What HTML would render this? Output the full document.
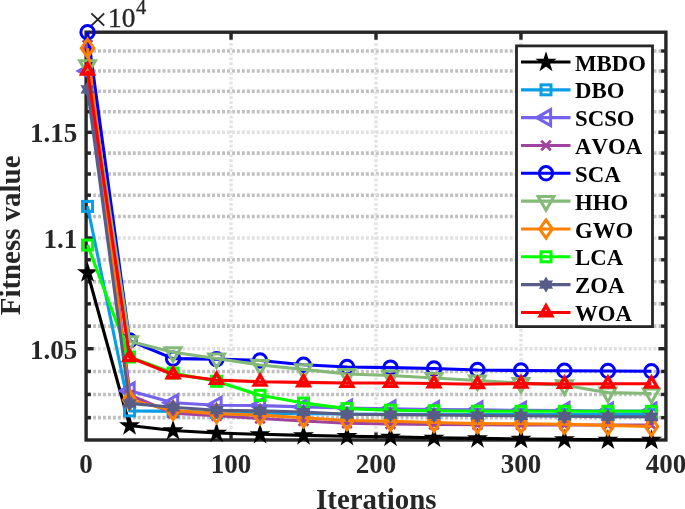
<!DOCTYPE html><html><head><meta charset="utf-8"><style>html,body{margin:0;padding:0;background:#fff;overflow:hidden;width:685px;height:509px;}svg{display:block;will-change:transform;}text{font-family:"Liberation Serif",serif;font-kerning:none;}</style></head><body>
<svg width="685" height="509" viewBox="0 0 685 509">
<rect x="0" y="0" width="685" height="509" fill="#fff"/>
<g><line x1="86.1" y1="417.65" x2="665.9" y2="417.65" stroke="#c0c0c0" stroke-width="3.6" stroke-dasharray="2.95 2.01" stroke-dashoffset="2.94"/><line x1="86.1" y1="394.44" x2="665.9" y2="394.44" stroke="#c0c0c0" stroke-width="3.6" stroke-dasharray="2.95 2.01" stroke-dashoffset="2.94"/><line x1="86.1" y1="371.46" x2="665.9" y2="371.46" stroke="#c0c0c0" stroke-width="3.6" stroke-dasharray="2.95 2.01" stroke-dashoffset="2.94"/><line x1="86.1" y1="348.70" x2="665.9" y2="348.70" stroke="#e0e0e0" stroke-width="3.6" stroke-dasharray="2.95 2.01" stroke-dashoffset="2.94"/><line x1="86.1" y1="326.15" x2="665.9" y2="326.15" stroke="#c0c0c0" stroke-width="3.6" stroke-dasharray="2.95 2.01" stroke-dashoffset="2.94"/><line x1="86.1" y1="303.82" x2="665.9" y2="303.82" stroke="#c0c0c0" stroke-width="3.6" stroke-dasharray="2.95 2.01" stroke-dashoffset="2.94"/><line x1="86.1" y1="281.69" x2="665.9" y2="281.69" stroke="#c0c0c0" stroke-width="3.6" stroke-dasharray="2.95 2.01" stroke-dashoffset="2.94"/><line x1="86.1" y1="259.77" x2="665.9" y2="259.77" stroke="#c0c0c0" stroke-width="3.6" stroke-dasharray="2.95 2.01" stroke-dashoffset="2.94"/><line x1="86.1" y1="238.05" x2="665.9" y2="238.05" stroke="#e0e0e0" stroke-width="3.6" stroke-dasharray="2.95 2.01" stroke-dashoffset="2.94"/><line x1="86.1" y1="216.52" x2="665.9" y2="216.52" stroke="#c0c0c0" stroke-width="3.6" stroke-dasharray="2.95 2.01" stroke-dashoffset="2.94"/><line x1="86.1" y1="195.19" x2="665.9" y2="195.19" stroke="#c0c0c0" stroke-width="3.6" stroke-dasharray="2.95 2.01" stroke-dashoffset="2.94"/><line x1="86.1" y1="174.04" x2="665.9" y2="174.04" stroke="#c0c0c0" stroke-width="3.6" stroke-dasharray="2.95 2.01" stroke-dashoffset="2.94"/><line x1="86.1" y1="153.09" x2="665.9" y2="153.09" stroke="#c0c0c0" stroke-width="3.6" stroke-dasharray="2.95 2.01" stroke-dashoffset="2.94"/><line x1="86.1" y1="132.31" x2="665.9" y2="132.31" stroke="#e0e0e0" stroke-width="3.6" stroke-dasharray="2.95 2.01" stroke-dashoffset="2.94"/><line x1="86.1" y1="111.72" x2="665.9" y2="111.72" stroke="#c0c0c0" stroke-width="3.6" stroke-dasharray="2.95 2.01" stroke-dashoffset="2.94"/><line x1="86.1" y1="91.30" x2="665.9" y2="91.30" stroke="#c0c0c0" stroke-width="3.6" stroke-dasharray="2.95 2.01" stroke-dashoffset="2.94"/><line x1="86.1" y1="71.06" x2="665.9" y2="71.06" stroke="#c0c0c0" stroke-width="3.6" stroke-dasharray="2.95 2.01" stroke-dashoffset="2.94"/><line x1="86.1" y1="50.98" x2="665.9" y2="50.98" stroke="#c0c0c0" stroke-width="3.6" stroke-dasharray="2.95 2.01" stroke-dashoffset="2.94"/><line x1="231.05" y1="32.2" x2="231.05" y2="440.0" stroke="#e2e2e2" stroke-width="3.4" stroke-dasharray="2.7 2.15" stroke-dashoffset="3.8"/><line x1="376.00" y1="32.2" x2="376.00" y2="440.0" stroke="#e2e2e2" stroke-width="3.4" stroke-dasharray="2.7 2.15" stroke-dashoffset="3.8"/><line x1="520.95" y1="32.2" x2="520.95" y2="440.0" stroke="#e2e2e2" stroke-width="3.4" stroke-dasharray="2.7 2.15" stroke-dashoffset="3.8"/></g>
<rect x="86.10" y="32.20" width="579.80" height="407.80" fill="none" stroke="#262626" stroke-width="3.4"/>
<g><line x1="231.05" y1="440.00" x2="231.05" y2="432.50" stroke="#262626" stroke-width="3.4"/><line x1="231.05" y1="32.20" x2="231.05" y2="39.70" stroke="#262626" stroke-width="3.4"/><line x1="376.00" y1="440.00" x2="376.00" y2="432.50" stroke="#262626" stroke-width="3.4"/><line x1="376.00" y1="32.20" x2="376.00" y2="39.70" stroke="#262626" stroke-width="3.4"/><line x1="520.95" y1="440.00" x2="520.95" y2="432.50" stroke="#262626" stroke-width="3.4"/><line x1="520.95" y1="32.20" x2="520.95" y2="39.70" stroke="#262626" stroke-width="3.4"/><line x1="86.10" y1="417.65" x2="90.90" y2="417.65" stroke="#262626" stroke-width="3.4"/><line x1="665.90" y1="417.65" x2="661.10" y2="417.65" stroke="#262626" stroke-width="3.4"/><line x1="86.10" y1="394.44" x2="90.90" y2="394.44" stroke="#262626" stroke-width="3.4"/><line x1="665.90" y1="394.44" x2="661.10" y2="394.44" stroke="#262626" stroke-width="3.4"/><line x1="86.10" y1="371.46" x2="90.90" y2="371.46" stroke="#262626" stroke-width="3.4"/><line x1="665.90" y1="371.46" x2="661.10" y2="371.46" stroke="#262626" stroke-width="3.4"/><line x1="86.10" y1="348.70" x2="93.60" y2="348.70" stroke="#262626" stroke-width="3.4"/><line x1="665.90" y1="348.70" x2="658.40" y2="348.70" stroke="#262626" stroke-width="3.4"/><line x1="86.10" y1="326.15" x2="90.90" y2="326.15" stroke="#262626" stroke-width="3.4"/><line x1="665.90" y1="326.15" x2="661.10" y2="326.15" stroke="#262626" stroke-width="3.4"/><line x1="86.10" y1="303.82" x2="90.90" y2="303.82" stroke="#262626" stroke-width="3.4"/><line x1="665.90" y1="303.82" x2="661.10" y2="303.82" stroke="#262626" stroke-width="3.4"/><line x1="86.10" y1="281.69" x2="90.90" y2="281.69" stroke="#262626" stroke-width="3.4"/><line x1="665.90" y1="281.69" x2="661.10" y2="281.69" stroke="#262626" stroke-width="3.4"/><line x1="86.10" y1="259.77" x2="90.90" y2="259.77" stroke="#262626" stroke-width="3.4"/><line x1="665.90" y1="259.77" x2="661.10" y2="259.77" stroke="#262626" stroke-width="3.4"/><line x1="86.10" y1="238.05" x2="93.60" y2="238.05" stroke="#262626" stroke-width="3.4"/><line x1="665.90" y1="238.05" x2="658.40" y2="238.05" stroke="#262626" stroke-width="3.4"/><line x1="86.10" y1="216.52" x2="90.90" y2="216.52" stroke="#262626" stroke-width="3.4"/><line x1="665.90" y1="216.52" x2="661.10" y2="216.52" stroke="#262626" stroke-width="3.4"/><line x1="86.10" y1="195.19" x2="90.90" y2="195.19" stroke="#262626" stroke-width="3.4"/><line x1="665.90" y1="195.19" x2="661.10" y2="195.19" stroke="#262626" stroke-width="3.4"/><line x1="86.10" y1="174.04" x2="90.90" y2="174.04" stroke="#262626" stroke-width="3.4"/><line x1="665.90" y1="174.04" x2="661.10" y2="174.04" stroke="#262626" stroke-width="3.4"/><line x1="86.10" y1="153.09" x2="90.90" y2="153.09" stroke="#262626" stroke-width="3.4"/><line x1="665.90" y1="153.09" x2="661.10" y2="153.09" stroke="#262626" stroke-width="3.4"/><line x1="86.10" y1="132.31" x2="93.60" y2="132.31" stroke="#262626" stroke-width="3.4"/><line x1="665.90" y1="132.31" x2="658.40" y2="132.31" stroke="#262626" stroke-width="3.4"/><line x1="86.10" y1="111.72" x2="90.90" y2="111.72" stroke="#262626" stroke-width="3.4"/><line x1="665.90" y1="111.72" x2="661.10" y2="111.72" stroke="#262626" stroke-width="3.4"/><line x1="86.10" y1="91.30" x2="90.90" y2="91.30" stroke="#262626" stroke-width="3.4"/><line x1="665.90" y1="91.30" x2="661.10" y2="91.30" stroke="#262626" stroke-width="3.4"/><line x1="86.10" y1="71.06" x2="90.90" y2="71.06" stroke="#262626" stroke-width="3.4"/><line x1="665.90" y1="71.06" x2="661.10" y2="71.06" stroke="#262626" stroke-width="3.4"/><line x1="86.10" y1="50.98" x2="90.90" y2="50.98" stroke="#262626" stroke-width="3.4"/><line x1="665.90" y1="50.98" x2="661.10" y2="50.98" stroke="#262626" stroke-width="3.4"/></g>
<polyline points="87.55,272.50 129.58,425.50 173.07,430.50 216.55,433.00 260.04,434.30 303.52,435.40 347.01,436.20 390.50,436.90 433.98,437.80 477.47,438.40 520.95,439.00 564.43,439.40 607.92,439.80 651.40,440.00" fill="none" stroke="#000000" stroke-width="3.1" stroke-linejoin="round"/>
<g><polygon points="87.55,264.30 89.46,270.17 95.63,270.17 90.64,273.80 92.55,279.68 87.55,276.05 82.55,279.68 84.46,273.80 79.47,270.17 85.64,270.17" fill="#000000" stroke="#000000" stroke-width="1.6" stroke-linejoin="miter"/><polygon points="129.58,417.30 131.49,423.17 137.67,423.17 132.67,426.80 134.58,432.68 129.58,429.05 124.59,432.68 126.50,426.80 121.50,423.17 127.68,423.17" fill="#000000" stroke="#000000" stroke-width="1.6" stroke-linejoin="miter"/><polygon points="173.07,422.30 174.98,428.17 181.15,428.17 176.16,431.80 178.07,437.68 173.07,434.05 168.07,437.68 169.98,431.80 164.99,428.17 171.16,428.17" fill="#000000" stroke="#000000" stroke-width="1.6" stroke-linejoin="miter"/><polygon points="216.55,424.80 218.46,430.67 224.64,430.67 219.64,434.30 221.55,440.18 216.55,436.55 211.56,440.18 213.47,434.30 208.47,430.67 214.65,430.67" fill="#000000" stroke="#000000" stroke-width="1.6" stroke-linejoin="miter"/><polygon points="260.04,426.10 261.95,431.97 268.12,431.97 263.13,435.60 265.04,441.48 260.04,437.85 255.04,441.48 256.95,435.60 251.96,431.97 258.13,431.97" fill="#000000" stroke="#000000" stroke-width="1.6" stroke-linejoin="miter"/><polygon points="303.52,427.20 305.43,433.07 311.61,433.07 306.61,436.70 308.52,442.58 303.52,438.95 298.53,442.58 300.44,436.70 295.44,433.07 301.62,433.07" fill="#000000" stroke="#000000" stroke-width="1.6" stroke-linejoin="miter"/><polygon points="347.01,428.00 348.92,433.87 355.09,433.87 350.10,437.50 352.01,443.38 347.01,439.75 342.01,443.38 343.92,437.50 338.93,433.87 345.10,433.87" fill="#000000" stroke="#000000" stroke-width="1.6" stroke-linejoin="miter"/><polygon points="390.50,428.70 392.40,434.57 398.58,434.57 393.58,438.20 395.49,444.08 390.50,440.45 385.50,444.08 387.41,438.20 382.41,434.57 388.59,434.57" fill="#000000" stroke="#000000" stroke-width="1.6" stroke-linejoin="miter"/><polygon points="433.98,429.60 435.89,435.47 442.06,435.47 437.07,439.10 438.98,444.98 433.98,441.35 428.98,444.98 430.89,439.10 425.90,435.47 432.07,435.47" fill="#000000" stroke="#000000" stroke-width="1.6" stroke-linejoin="miter"/><polygon points="477.47,430.20 479.37,436.07 485.55,436.07 480.55,439.70 482.46,445.58 477.47,441.95 472.47,445.58 474.38,439.70 469.38,436.07 475.56,436.07" fill="#000000" stroke="#000000" stroke-width="1.6" stroke-linejoin="miter"/><polygon points="520.95,430.80 522.86,436.67 529.03,436.67 524.04,440.30 525.95,446.18 520.95,442.55 515.95,446.18 517.86,440.30 512.87,436.67 519.04,436.67" fill="#000000" stroke="#000000" stroke-width="1.6" stroke-linejoin="miter"/><polygon points="564.43,431.20 566.34,437.07 572.52,437.07 567.52,440.70 569.43,446.58 564.43,442.95 559.44,446.58 561.35,440.70 556.35,437.07 562.53,437.07" fill="#000000" stroke="#000000" stroke-width="1.6" stroke-linejoin="miter"/><polygon points="607.92,431.60 609.83,437.47 616.00,437.47 611.01,441.10 612.92,446.98 607.92,443.35 602.92,446.98 604.83,441.10 599.84,437.47 606.01,437.47" fill="#000000" stroke="#000000" stroke-width="1.6" stroke-linejoin="miter"/><polygon points="651.40,431.80 653.31,437.67 659.49,437.67 654.49,441.30 656.40,447.18 651.40,443.55 646.41,447.18 648.32,441.30 643.32,437.67 649.50,437.67" fill="#000000" stroke="#000000" stroke-width="1.6" stroke-linejoin="miter"/></g>
<polyline points="87.55,206.40 129.58,410.90 173.07,411.40 216.55,412.50 260.04,413.20 303.52,413.60 347.01,414.00 390.50,414.20 433.98,414.40 477.47,414.50 520.95,414.60 564.43,414.60 607.92,414.60 651.40,414.60" fill="none" stroke="#0b9ee4" stroke-width="3.1" stroke-linejoin="round"/>
<g><rect x="82.55" y="201.40" width="10.00" height="10.00" fill="none" stroke="#0b9ee4" stroke-width="3.0"/><rect x="124.58" y="405.90" width="10.00" height="10.00" fill="none" stroke="#0b9ee4" stroke-width="3.0"/><rect x="168.07" y="406.40" width="10.00" height="10.00" fill="none" stroke="#0b9ee4" stroke-width="3.0"/><rect x="211.55" y="407.50" width="10.00" height="10.00" fill="none" stroke="#0b9ee4" stroke-width="3.0"/><rect x="255.04" y="408.20" width="10.00" height="10.00" fill="none" stroke="#0b9ee4" stroke-width="3.0"/><rect x="298.52" y="408.60" width="10.00" height="10.00" fill="none" stroke="#0b9ee4" stroke-width="3.0"/><rect x="342.01" y="409.00" width="10.00" height="10.00" fill="none" stroke="#0b9ee4" stroke-width="3.0"/><rect x="385.50" y="409.20" width="10.00" height="10.00" fill="none" stroke="#0b9ee4" stroke-width="3.0"/><rect x="428.98" y="409.40" width="10.00" height="10.00" fill="none" stroke="#0b9ee4" stroke-width="3.0"/><rect x="472.47" y="409.50" width="10.00" height="10.00" fill="none" stroke="#0b9ee4" stroke-width="3.0"/><rect x="515.95" y="409.60" width="10.00" height="10.00" fill="none" stroke="#0b9ee4" stroke-width="3.0"/><rect x="559.43" y="409.60" width="10.00" height="10.00" fill="none" stroke="#0b9ee4" stroke-width="3.0"/><rect x="602.92" y="409.60" width="10.00" height="10.00" fill="none" stroke="#0b9ee4" stroke-width="3.0"/><rect x="646.40" y="409.60" width="10.00" height="10.00" fill="none" stroke="#0b9ee4" stroke-width="3.0"/></g>
<polyline points="87.55,71.00 129.58,390.80 173.07,402.80 216.55,405.30 260.04,405.60 303.52,406.90 347.01,408.00 390.50,408.80 433.98,409.60 477.47,409.90 520.95,410.30 564.43,410.50 607.92,411.00 651.40,411.00" fill="none" stroke="#7462ec" stroke-width="3.1" stroke-linejoin="round"/>
<g><polygon points="78.35,71.00 92.15,63.03 92.15,78.97" fill="none" stroke="#7462ec" stroke-width="3.0" stroke-linejoin="miter"/><polygon points="120.38,390.80 134.18,382.83 134.18,398.77" fill="none" stroke="#7462ec" stroke-width="3.0" stroke-linejoin="miter"/><polygon points="163.87,402.80 177.67,394.83 177.67,410.77" fill="none" stroke="#7462ec" stroke-width="3.0" stroke-linejoin="miter"/><polygon points="207.35,405.30 221.15,397.33 221.15,413.27" fill="none" stroke="#7462ec" stroke-width="3.0" stroke-linejoin="miter"/><polygon points="250.84,405.60 264.64,397.63 264.64,413.57" fill="none" stroke="#7462ec" stroke-width="3.0" stroke-linejoin="miter"/><polygon points="294.32,406.90 308.12,398.93 308.12,414.87" fill="none" stroke="#7462ec" stroke-width="3.0" stroke-linejoin="miter"/><polygon points="337.81,408.00 351.61,400.03 351.61,415.97" fill="none" stroke="#7462ec" stroke-width="3.0" stroke-linejoin="miter"/><polygon points="381.30,408.80 395.10,400.83 395.10,416.77" fill="none" stroke="#7462ec" stroke-width="3.0" stroke-linejoin="miter"/><polygon points="424.78,409.60 438.58,401.63 438.58,417.57" fill="none" stroke="#7462ec" stroke-width="3.0" stroke-linejoin="miter"/><polygon points="468.27,409.90 482.07,401.93 482.07,417.87" fill="none" stroke="#7462ec" stroke-width="3.0" stroke-linejoin="miter"/><polygon points="511.75,410.30 525.55,402.33 525.55,418.27" fill="none" stroke="#7462ec" stroke-width="3.0" stroke-linejoin="miter"/><polygon points="555.23,410.50 569.03,402.53 569.03,418.47" fill="none" stroke="#7462ec" stroke-width="3.0" stroke-linejoin="miter"/><polygon points="598.72,411.00 612.52,403.03 612.52,418.97" fill="none" stroke="#7462ec" stroke-width="3.0" stroke-linejoin="miter"/><polygon points="642.20,411.00 656.00,403.03 656.00,418.97" fill="none" stroke="#7462ec" stroke-width="3.0" stroke-linejoin="miter"/></g>
<polyline points="87.55,45.00 129.58,395.00 173.07,413.20 216.55,415.80 260.04,418.50 303.52,421.00 347.01,423.20 390.50,424.00 433.98,424.50 477.47,424.80 520.95,425.00 564.43,425.00 607.92,425.00 651.40,425.00" fill="none" stroke="#9f42a0" stroke-width="3.1" stroke-linejoin="round"/>
<g><path d="M82.75 40.20L92.35 49.80M82.75 49.80L92.35 40.20" stroke="#9f42a0" stroke-width="2.7" fill="none"/><path d="M124.78 390.20L134.38 399.80M124.78 399.80L134.38 390.20" stroke="#9f42a0" stroke-width="2.7" fill="none"/><path d="M168.27 408.40L177.87 418.00M168.27 418.00L177.87 408.40" stroke="#9f42a0" stroke-width="2.7" fill="none"/><path d="M211.75 411.00L221.35 420.60M211.75 420.60L221.35 411.00" stroke="#9f42a0" stroke-width="2.7" fill="none"/><path d="M255.24 413.70L264.84 423.30M255.24 423.30L264.84 413.70" stroke="#9f42a0" stroke-width="2.7" fill="none"/><path d="M298.72 416.20L308.32 425.80M298.72 425.80L308.32 416.20" stroke="#9f42a0" stroke-width="2.7" fill="none"/><path d="M342.21 418.40L351.81 428.00M342.21 428.00L351.81 418.40" stroke="#9f42a0" stroke-width="2.7" fill="none"/><path d="M385.69 419.20L395.30 428.80M385.69 428.80L395.30 419.20" stroke="#9f42a0" stroke-width="2.7" fill="none"/><path d="M429.18 419.70L438.78 429.30M429.18 429.30L438.78 419.70" stroke="#9f42a0" stroke-width="2.7" fill="none"/><path d="M472.67 420.00L482.27 429.60M472.67 429.60L482.27 420.00" stroke="#9f42a0" stroke-width="2.7" fill="none"/><path d="M516.15 420.20L525.75 429.80M516.15 429.80L525.75 420.20" stroke="#9f42a0" stroke-width="2.7" fill="none"/><path d="M559.63 420.20L569.23 429.80M559.63 429.80L569.23 420.20" stroke="#9f42a0" stroke-width="2.7" fill="none"/><path d="M603.12 420.20L612.72 429.80M603.12 429.80L612.72 420.20" stroke="#9f42a0" stroke-width="2.7" fill="none"/><path d="M646.61 420.20L656.20 429.80M646.61 429.80L656.20 420.20" stroke="#9f42a0" stroke-width="2.7" fill="none"/></g>
<polyline points="87.55,32.20 129.58,340.50 173.07,358.60 216.55,359.10 260.04,360.50 303.52,364.70 347.01,367.00 390.50,367.60 433.98,368.50 477.47,370.00 520.95,370.50 564.43,370.70 607.92,371.00 651.40,371.20" fill="none" stroke="#0000ff" stroke-width="3.1" stroke-linejoin="round"/>
<g><circle cx="87.55" cy="32.20" r="6.7" fill="none" stroke="#0000ff" stroke-width="3.0"/><circle cx="129.58" cy="340.50" r="6.7" fill="none" stroke="#0000ff" stroke-width="3.0"/><circle cx="173.07" cy="358.60" r="6.7" fill="none" stroke="#0000ff" stroke-width="3.0"/><circle cx="216.55" cy="359.10" r="6.7" fill="none" stroke="#0000ff" stroke-width="3.0"/><circle cx="260.04" cy="360.50" r="6.7" fill="none" stroke="#0000ff" stroke-width="3.0"/><circle cx="303.52" cy="364.70" r="6.7" fill="none" stroke="#0000ff" stroke-width="3.0"/><circle cx="347.01" cy="367.00" r="6.7" fill="none" stroke="#0000ff" stroke-width="3.0"/><circle cx="390.50" cy="367.60" r="6.7" fill="none" stroke="#0000ff" stroke-width="3.0"/><circle cx="433.98" cy="368.50" r="6.7" fill="none" stroke="#0000ff" stroke-width="3.0"/><circle cx="477.47" cy="370.00" r="6.7" fill="none" stroke="#0000ff" stroke-width="3.0"/><circle cx="520.95" cy="370.50" r="6.7" fill="none" stroke="#0000ff" stroke-width="3.0"/><circle cx="564.43" cy="370.70" r="6.7" fill="none" stroke="#0000ff" stroke-width="3.0"/><circle cx="607.92" cy="371.00" r="6.7" fill="none" stroke="#0000ff" stroke-width="3.0"/><circle cx="651.40" cy="371.20" r="6.7" fill="none" stroke="#0000ff" stroke-width="3.0"/></g>
<polyline points="87.55,65.40 129.58,341.20 173.07,352.20 216.55,358.50 260.04,365.00 303.52,369.40 347.01,374.00 390.50,375.50 433.98,378.00 477.47,380.50 520.95,383.10 564.43,385.30 607.92,392.60 651.40,393.50" fill="none" stroke="#85b978" stroke-width="3.1" stroke-linejoin="round"/>
<g><polygon points="87.55,74.50 95.43,60.85 79.67,60.85" fill="none" stroke="#85b978" stroke-width="3.0" stroke-linejoin="miter"/><polygon points="129.58,350.30 137.47,336.65 121.70,336.65" fill="none" stroke="#85b978" stroke-width="3.0" stroke-linejoin="miter"/><polygon points="173.07,361.30 180.95,347.65 165.19,347.65" fill="none" stroke="#85b978" stroke-width="3.0" stroke-linejoin="miter"/><polygon points="216.55,367.60 224.44,353.95 208.67,353.95" fill="none" stroke="#85b978" stroke-width="3.0" stroke-linejoin="miter"/><polygon points="260.04,374.10 267.92,360.45 252.16,360.45" fill="none" stroke="#85b978" stroke-width="3.0" stroke-linejoin="miter"/><polygon points="303.52,378.50 311.41,364.85 295.64,364.85" fill="none" stroke="#85b978" stroke-width="3.0" stroke-linejoin="miter"/><polygon points="347.01,383.10 354.89,369.45 339.13,369.45" fill="none" stroke="#85b978" stroke-width="3.0" stroke-linejoin="miter"/><polygon points="390.50,384.60 398.38,370.95 382.61,370.95" fill="none" stroke="#85b978" stroke-width="3.0" stroke-linejoin="miter"/><polygon points="433.98,387.10 441.86,373.45 426.10,373.45" fill="none" stroke="#85b978" stroke-width="3.0" stroke-linejoin="miter"/><polygon points="477.47,389.60 485.35,375.95 469.58,375.95" fill="none" stroke="#85b978" stroke-width="3.0" stroke-linejoin="miter"/><polygon points="520.95,392.20 528.83,378.55 513.07,378.55" fill="none" stroke="#85b978" stroke-width="3.0" stroke-linejoin="miter"/><polygon points="564.43,394.40 572.32,380.75 556.55,380.75" fill="none" stroke="#85b978" stroke-width="3.0" stroke-linejoin="miter"/><polygon points="607.92,401.70 615.80,388.05 600.04,388.05" fill="none" stroke="#85b978" stroke-width="3.0" stroke-linejoin="miter"/><polygon points="651.40,402.60 659.29,388.95 643.52,388.95" fill="none" stroke="#85b978" stroke-width="3.0" stroke-linejoin="miter"/></g>
<polyline points="87.55,48.20 129.58,400.00 173.07,410.50 216.55,413.60 260.04,415.10 303.52,417.80 347.01,420.50 390.50,421.20 433.98,422.50 477.47,423.60 520.95,423.80 564.43,424.20 607.92,425.40 651.40,426.50" fill="none" stroke="#ff8000" stroke-width="3.1" stroke-linejoin="round"/>
<g><polygon points="87.55,39.10 93.85,48.20 87.55,57.30 81.25,48.20" fill="none" stroke="#ff8000" stroke-width="3.0" stroke-linejoin="miter"/><polygon points="129.58,390.90 135.88,400.00 129.58,409.10 123.28,400.00" fill="none" stroke="#ff8000" stroke-width="3.0" stroke-linejoin="miter"/><polygon points="173.07,401.40 179.37,410.50 173.07,419.60 166.77,410.50" fill="none" stroke="#ff8000" stroke-width="3.0" stroke-linejoin="miter"/><polygon points="216.55,404.50 222.85,413.60 216.55,422.70 210.25,413.60" fill="none" stroke="#ff8000" stroke-width="3.0" stroke-linejoin="miter"/><polygon points="260.04,406.00 266.34,415.10 260.04,424.20 253.74,415.10" fill="none" stroke="#ff8000" stroke-width="3.0" stroke-linejoin="miter"/><polygon points="303.52,408.70 309.82,417.80 303.52,426.90 297.22,417.80" fill="none" stroke="#ff8000" stroke-width="3.0" stroke-linejoin="miter"/><polygon points="347.01,411.40 353.31,420.50 347.01,429.60 340.71,420.50" fill="none" stroke="#ff8000" stroke-width="3.0" stroke-linejoin="miter"/><polygon points="390.50,412.10 396.80,421.20 390.50,430.30 384.19,421.20" fill="none" stroke="#ff8000" stroke-width="3.0" stroke-linejoin="miter"/><polygon points="433.98,413.40 440.28,422.50 433.98,431.60 427.68,422.50" fill="none" stroke="#ff8000" stroke-width="3.0" stroke-linejoin="miter"/><polygon points="477.47,414.50 483.77,423.60 477.47,432.70 471.17,423.60" fill="none" stroke="#ff8000" stroke-width="3.0" stroke-linejoin="miter"/><polygon points="520.95,414.70 527.25,423.80 520.95,432.90 514.65,423.80" fill="none" stroke="#ff8000" stroke-width="3.0" stroke-linejoin="miter"/><polygon points="564.43,415.10 570.73,424.20 564.43,433.30 558.13,424.20" fill="none" stroke="#ff8000" stroke-width="3.0" stroke-linejoin="miter"/><polygon points="607.92,416.30 614.22,425.40 607.92,434.50 601.62,425.40" fill="none" stroke="#ff8000" stroke-width="3.0" stroke-linejoin="miter"/><polygon points="651.40,417.40 657.70,426.50 651.40,435.60 645.11,426.50" fill="none" stroke="#ff8000" stroke-width="3.0" stroke-linejoin="miter"/></g>
<polyline points="87.55,245.10 129.58,357.00 173.07,373.00 216.55,381.30 260.04,395.30 303.52,403.00 347.01,408.60 390.50,410.20 433.98,410.80 477.47,411.20 520.95,411.30 564.43,411.30 607.92,411.30 651.40,411.30" fill="none" stroke="#00ff00" stroke-width="3.1" stroke-linejoin="round"/>
<g><rect x="82.55" y="240.10" width="10.00" height="10.00" fill="none" stroke="#00ff00" stroke-width="3.0"/><rect x="124.58" y="352.00" width="10.00" height="10.00" fill="none" stroke="#00ff00" stroke-width="3.0"/><rect x="168.07" y="368.00" width="10.00" height="10.00" fill="none" stroke="#00ff00" stroke-width="3.0"/><rect x="211.55" y="376.30" width="10.00" height="10.00" fill="none" stroke="#00ff00" stroke-width="3.0"/><rect x="255.04" y="390.30" width="10.00" height="10.00" fill="none" stroke="#00ff00" stroke-width="3.0"/><rect x="298.52" y="398.00" width="10.00" height="10.00" fill="none" stroke="#00ff00" stroke-width="3.0"/><rect x="342.01" y="403.60" width="10.00" height="10.00" fill="none" stroke="#00ff00" stroke-width="3.0"/><rect x="385.50" y="405.20" width="10.00" height="10.00" fill="none" stroke="#00ff00" stroke-width="3.0"/><rect x="428.98" y="405.80" width="10.00" height="10.00" fill="none" stroke="#00ff00" stroke-width="3.0"/><rect x="472.47" y="406.20" width="10.00" height="10.00" fill="none" stroke="#00ff00" stroke-width="3.0"/><rect x="515.95" y="406.30" width="10.00" height="10.00" fill="none" stroke="#00ff00" stroke-width="3.0"/><rect x="559.43" y="406.30" width="10.00" height="10.00" fill="none" stroke="#00ff00" stroke-width="3.0"/><rect x="602.92" y="406.30" width="10.00" height="10.00" fill="none" stroke="#00ff00" stroke-width="3.0"/><rect x="646.40" y="406.30" width="10.00" height="10.00" fill="none" stroke="#00ff00" stroke-width="3.0"/></g>
<polyline points="87.55,89.30 129.58,403.40 173.07,407.30 216.55,410.20 260.04,410.90 303.52,412.00 347.01,414.30 390.50,414.60 433.98,415.00 477.47,415.50 520.95,415.80 564.43,416.20 607.92,416.70 651.40,416.80" fill="none" stroke="#585d88" stroke-width="3.1" stroke-linejoin="round"/>
<g><polygon points="87.55,82.70 89.45,86.00 93.27,86.00 91.36,89.30 93.27,92.60 89.45,92.60 87.55,95.90 85.65,92.60 81.83,92.60 83.74,89.30 81.83,86.00 85.65,86.00" fill="#585d88" stroke="#585d88" stroke-width="1.6"/><polygon points="129.58,396.80 131.49,400.10 135.30,400.10 133.39,403.40 135.30,406.70 131.49,406.70 129.58,410.00 127.68,406.70 123.87,406.70 125.78,403.40 123.87,400.10 127.68,400.10" fill="#585d88" stroke="#585d88" stroke-width="1.6"/><polygon points="173.07,400.70 174.97,404.00 178.79,404.00 176.88,407.30 178.79,410.60 174.97,410.60 173.07,413.90 171.17,410.60 167.35,410.60 169.26,407.30 167.35,404.00 171.17,404.00" fill="#585d88" stroke="#585d88" stroke-width="1.6"/><polygon points="216.55,403.60 218.46,406.90 222.27,406.90 220.36,410.20 222.27,413.50 218.46,413.50 216.55,416.80 214.65,413.50 210.84,413.50 212.75,410.20 210.84,406.90 214.65,406.90" fill="#585d88" stroke="#585d88" stroke-width="1.6"/><polygon points="260.04,404.30 261.94,407.60 265.76,407.60 263.85,410.90 265.76,414.20 261.94,414.20 260.04,417.50 258.14,414.20 254.32,414.20 256.23,410.90 254.32,407.60 258.14,407.60" fill="#585d88" stroke="#585d88" stroke-width="1.6"/><polygon points="303.52,405.40 305.43,408.70 309.24,408.70 307.33,412.00 309.24,415.30 305.43,415.30 303.52,418.60 301.62,415.30 297.81,415.30 299.72,412.00 297.81,408.70 301.62,408.70" fill="#585d88" stroke="#585d88" stroke-width="1.6"/><polygon points="347.01,407.70 348.91,411.00 352.73,411.00 350.82,414.30 352.73,417.60 348.91,417.60 347.01,420.90 345.11,417.60 341.29,417.60 343.20,414.30 341.29,411.00 345.11,411.00" fill="#585d88" stroke="#585d88" stroke-width="1.6"/><polygon points="390.50,408.00 392.40,411.30 396.21,411.30 394.30,414.60 396.21,417.90 392.40,417.90 390.50,421.20 388.59,417.90 384.78,417.90 386.69,414.60 384.78,411.30 388.59,411.30" fill="#585d88" stroke="#585d88" stroke-width="1.6"/><polygon points="433.98,408.40 435.88,411.70 439.70,411.70 437.79,415.00 439.70,418.30 435.88,418.30 433.98,421.60 432.08,418.30 428.26,418.30 430.17,415.00 428.26,411.70 432.08,411.70" fill="#585d88" stroke="#585d88" stroke-width="1.6"/><polygon points="477.47,408.90 479.37,412.20 483.18,412.20 481.27,415.50 483.18,418.80 479.37,418.80 477.47,422.10 475.56,418.80 471.75,418.80 473.66,415.50 471.75,412.20 475.56,412.20" fill="#585d88" stroke="#585d88" stroke-width="1.6"/><polygon points="520.95,409.20 522.85,412.50 526.67,412.50 524.76,415.80 526.67,419.10 522.85,419.10 520.95,422.40 519.05,419.10 515.23,419.10 517.14,415.80 515.23,412.50 519.05,412.50" fill="#585d88" stroke="#585d88" stroke-width="1.6"/><polygon points="564.43,409.60 566.34,412.90 570.15,412.90 568.24,416.20 570.15,419.50 566.34,419.50 564.43,422.80 562.53,419.50 558.72,419.50 560.63,416.20 558.72,412.90 562.53,412.90" fill="#585d88" stroke="#585d88" stroke-width="1.6"/><polygon points="607.92,410.10 609.82,413.40 613.64,413.40 611.73,416.70 613.64,420.00 609.82,420.00 607.92,423.30 606.02,420.00 602.20,420.00 604.11,416.70 602.20,413.40 606.02,413.40" fill="#585d88" stroke="#585d88" stroke-width="1.6"/><polygon points="651.40,410.20 653.31,413.50 657.12,413.50 655.21,416.80 657.12,420.10 653.31,420.10 651.40,423.40 649.50,420.10 645.69,420.10 647.60,416.80 645.69,413.50 649.50,413.50" fill="#585d88" stroke="#585d88" stroke-width="1.6"/></g>
<polyline points="87.55,70.60 129.58,357.30 173.07,374.50 216.55,380.00 260.04,381.80 303.52,382.40 347.01,383.00 390.50,383.00 433.98,383.50 477.47,384.30 520.95,383.60 564.43,384.00 607.92,383.80 651.40,383.80" fill="none" stroke="#ff0000" stroke-width="3.1" stroke-linejoin="round"/>
<g><polygon points="87.55,64.00 93.27,73.90 81.83,73.90" fill="none" stroke="#ff0000" stroke-width="3.5" stroke-linejoin="miter"/><polygon points="129.58,350.70 135.30,360.60 123.87,360.60" fill="none" stroke="#ff0000" stroke-width="3.5" stroke-linejoin="miter"/><polygon points="173.07,367.90 178.79,377.80 167.35,377.80" fill="none" stroke="#ff0000" stroke-width="3.5" stroke-linejoin="miter"/><polygon points="216.55,373.40 222.27,383.30 210.84,383.30" fill="none" stroke="#ff0000" stroke-width="3.5" stroke-linejoin="miter"/><polygon points="260.04,375.20 265.76,385.10 254.32,385.10" fill="none" stroke="#ff0000" stroke-width="3.5" stroke-linejoin="miter"/><polygon points="303.52,375.80 309.24,385.70 297.81,385.70" fill="none" stroke="#ff0000" stroke-width="3.5" stroke-linejoin="miter"/><polygon points="347.01,376.40 352.73,386.30 341.29,386.30" fill="none" stroke="#ff0000" stroke-width="3.5" stroke-linejoin="miter"/><polygon points="390.50,376.40 396.21,386.30 384.78,386.30" fill="none" stroke="#ff0000" stroke-width="3.5" stroke-linejoin="miter"/><polygon points="433.98,376.90 439.70,386.80 428.26,386.80" fill="none" stroke="#ff0000" stroke-width="3.5" stroke-linejoin="miter"/><polygon points="477.47,377.70 483.18,387.60 471.75,387.60" fill="none" stroke="#ff0000" stroke-width="3.5" stroke-linejoin="miter"/><polygon points="520.95,377.00 526.67,386.90 515.23,386.90" fill="none" stroke="#ff0000" stroke-width="3.5" stroke-linejoin="miter"/><polygon points="564.43,377.40 570.15,387.30 558.72,387.30" fill="none" stroke="#ff0000" stroke-width="3.5" stroke-linejoin="miter"/><polygon points="607.92,377.20 613.64,387.10 602.20,387.10" fill="none" stroke="#ff0000" stroke-width="3.5" stroke-linejoin="miter"/><polygon points="651.40,377.20 657.12,387.10 645.69,387.10" fill="none" stroke="#ff0000" stroke-width="3.5" stroke-linejoin="miter"/></g>
<text x="86.10" y="473.4" text-anchor="middle" font-weight="bold" font-size="27" fill="#262626">0</text>
<text x="231.05" y="473.4" text-anchor="middle" font-weight="bold" font-size="27" fill="#262626">100</text>
<text x="376.00" y="473.4" text-anchor="middle" font-weight="bold" font-size="27" fill="#262626">200</text>
<text x="520.95" y="473.4" text-anchor="middle" font-weight="bold" font-size="27" fill="#262626">300</text>
<text x="665.90" y="473.4" text-anchor="middle" font-weight="bold" font-size="27" fill="#262626">400</text>
<text x="77.2" y="358.70" text-anchor="end" font-weight="bold" font-size="27" fill="#262626">1.05</text>
<text x="77.2" y="248.05" text-anchor="end" font-weight="bold" font-size="27" fill="#262626">1.1</text>
<text x="77.2" y="142.31" text-anchor="end" font-weight="bold" font-size="27" fill="#262626">1.15</text>
<path d="M91.4 13.4L104.2 25.6M104.2 13.4L91.4 25.6" stroke="#262626" stroke-width="1.9" fill="none"/>
<text x="108.0" y="26.7" font-size="27.3" fill="#262626" stroke="#262626" stroke-width="0.35">10</text>
<text x="135.9" y="13.8" font-size="20.5" fill="#262626" stroke="#262626" stroke-width="0.3">4</text>
<text x="376.3" y="508.9" text-anchor="middle" font-weight="bold" font-size="28.9" fill="#262626">Iterations</text>
<text transform="translate(20.2,235.4) rotate(-90)" text-anchor="middle" font-weight="bold" font-size="28.9" fill="#262626">Fitness value</text>
<rect x="516.50" y="45.90" width="136.00" height="280.70" fill="#fff" stroke="#262626" stroke-width="2.8"/>
<line x1="521" y1="62.00" x2="570.5" y2="62.00" stroke="#000000" stroke-width="3.1"/>
<polygon points="546.00,53.80 547.91,59.67 554.08,59.67 549.09,63.30 551.00,69.18 546.00,65.55 541.00,69.18 542.91,63.30 537.92,59.67 544.09,59.67" fill="#000000" stroke="#000000" stroke-width="1.6" stroke-linejoin="miter"/>
<text x="575" y="70.60" font-weight="bold" font-size="22.8" fill="#000">MBDO</text>
<line x1="521" y1="89.83" x2="570.5" y2="89.83" stroke="#0b9ee4" stroke-width="3.1"/>
<rect x="541.00" y="84.83" width="10.00" height="10.00" fill="none" stroke="#0b9ee4" stroke-width="3.0"/>
<text x="575" y="98.43" font-weight="bold" font-size="22.8" fill="#000">DBO</text>
<line x1="521" y1="117.66" x2="570.5" y2="117.66" stroke="#7462ec" stroke-width="3.1"/>
<polygon points="536.80,117.66 550.60,109.69 550.60,125.63" fill="none" stroke="#7462ec" stroke-width="3.0" stroke-linejoin="miter"/>
<text x="575" y="126.26" font-weight="bold" font-size="22.8" fill="#000">SCSO</text>
<line x1="521" y1="145.49" x2="570.5" y2="145.49" stroke="#9f42a0" stroke-width="3.1"/>
<path d="M541.20 140.69L550.80 150.29M541.20 150.29L550.80 140.69" stroke="#9f42a0" stroke-width="2.7" fill="none"/>
<text x="575" y="154.09" font-weight="bold" font-size="22.8" fill="#000">AVOA</text>
<line x1="521" y1="173.32" x2="570.5" y2="173.32" stroke="#0000ff" stroke-width="3.1"/>
<circle cx="546.00" cy="173.32" r="6.7" fill="none" stroke="#0000ff" stroke-width="3.0"/>
<text x="575" y="181.92" font-weight="bold" font-size="22.8" fill="#000">SCA</text>
<line x1="521" y1="201.15" x2="570.5" y2="201.15" stroke="#85b978" stroke-width="3.1"/>
<polygon points="546.00,210.25 553.88,196.60 538.12,196.60" fill="none" stroke="#85b978" stroke-width="3.0" stroke-linejoin="miter"/>
<text x="575" y="209.75" font-weight="bold" font-size="22.8" fill="#000">HHO</text>
<line x1="521" y1="228.98" x2="570.5" y2="228.98" stroke="#ff8000" stroke-width="3.1"/>
<polygon points="546.00,219.88 552.30,228.98 546.00,238.08 539.70,228.98" fill="none" stroke="#ff8000" stroke-width="3.0" stroke-linejoin="miter"/>
<text x="575" y="237.58" font-weight="bold" font-size="22.8" fill="#000">GWO</text>
<line x1="521" y1="256.81" x2="570.5" y2="256.81" stroke="#00ff00" stroke-width="3.1"/>
<rect x="541.00" y="251.81" width="10.00" height="10.00" fill="none" stroke="#00ff00" stroke-width="3.0"/>
<text x="575" y="265.41" font-weight="bold" font-size="22.8" fill="#000">LCA</text>
<line x1="521" y1="284.64" x2="570.5" y2="284.64" stroke="#585d88" stroke-width="3.1"/>
<polygon points="546.00,278.04 547.90,281.34 551.72,281.34 549.81,284.64 551.72,287.94 547.90,287.94 546.00,291.24 544.10,287.94 540.28,287.94 542.19,284.64 540.28,281.34 544.10,281.34" fill="#585d88" stroke="#585d88" stroke-width="1.6"/>
<text x="575" y="293.24" font-weight="bold" font-size="22.8" fill="#000">ZOA</text>
<line x1="521" y1="312.47" x2="570.5" y2="312.47" stroke="#ff0000" stroke-width="3.1"/>
<polygon points="546.00,305.87 551.72,315.77 540.28,315.77" fill="none" stroke="#ff0000" stroke-width="3.5" stroke-linejoin="miter"/>
<text x="575" y="321.07" font-weight="bold" font-size="22.8" fill="#000">WOA</text>
</svg></body></html>
